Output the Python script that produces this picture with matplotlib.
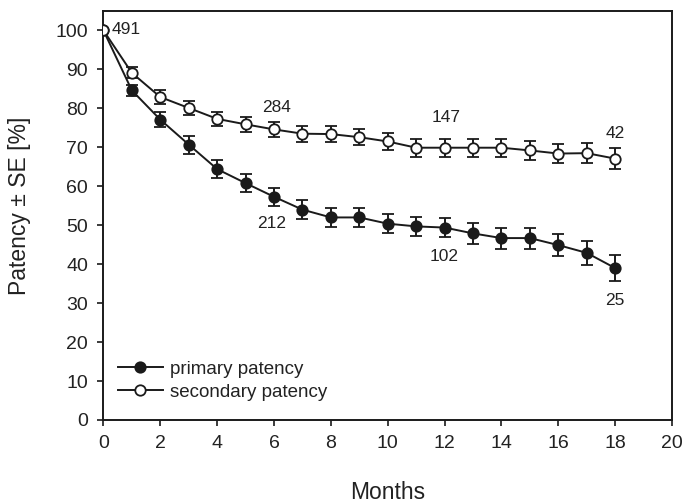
import matplotlib
matplotlib.use("Agg")
import matplotlib.pyplot as plt
from matplotlib.lines import Line2D

plt.rcParams['font.family'] = ['Liberation Sans', 'DejaVu Sans']

# dados
meses = list(range(0, 19))
primaria = [100, 84.6, 77.1, 70.7, 64.4, 60.8, 57.3, 54.0, 52.0, 52.0, 50.4,
            49.7, 49.4, 47.9, 46.7, 46.7, 44.9, 42.9, 39.0]
primaria_se = [0, 1.5, 1.9, 2.3, 2.3, 2.3, 2.3, 2.5, 2.35, 2.35, 2.5,
               2.4, 2.5, 2.65, 2.7, 2.7, 2.8, 3.0, 3.4]
secundaria = [100, 89.1, 82.9, 80.1, 77.3, 75.9, 74.6, 73.5, 73.4, 72.6, 71.5,
              69.9, 69.9, 69.9, 69.9, 69.2, 68.4, 68.5, 67.1]
secundaria_se = [0, 1.4, 1.7, 1.8, 1.8, 2.0, 2.0, 2.1, 2.1, 2.1, 2.2,
                 2.3, 2.3, 2.3, 2.3, 2.35, 2.5, 2.5, 2.7]

# numeros de pacientes em risco: (mes, valor, texto)
rotulos = [(0.28, 100.2, '491'), (6.1, 80.3, '284'), (5.9, 50.4, '212'),
           (12.05, 77.7, '147'), (12.0, 41.9, '102'), (18.0, 73.5, '42'),
           (18.0, 30.8, '25')]

cor = '#1a1a1a'
texto = '#222222'
fig = plt.figure(figsize=(6.83, 5.04), dpi=100)
ax = fig.add_axes([0.1515, 0.1667, 0.8324, 0.8115])

ax.errorbar(meses, primaria, yerr=primaria_se, color=cor, lw=1.4, elinewidth=1.4,
            capsize=4.5, capthick=1.4, marker='o', ms=7.5, mfc=cor, mec=cor,
            mew=1.3, zorder=3)
ax.errorbar(meses, secundaria, yerr=secundaria_se, color=cor, lw=1.4, elinewidth=1.4,
            capsize=4.5, capthick=1.4, marker='o', ms=7.5, mfc='white', mec=cor,
            mew=1.3, zorder=3)

for x, y, t in rotulos:
    ha = 'left' if x < 1 else 'center'
    ax.text(x, y, t, ha=ha, va='center', fontsize=12.5, color=texto)

ax.set_xlim(0, 20)
ax.set_ylim(0, 105)
ax.set_xticks(range(0, 21, 2))
ax.set_yticks(range(0, 101, 10))
ax.tick_params(direction='out', length=4, width=1.2, labelsize=14,
               colors=cor, labelcolor=texto)
ax.tick_params(axis='y', pad=7)
ax.tick_params(axis='x', pad=7)
for s in ax.spines.values():
    s.set_linewidth(1.4)
    s.set_color(cor)

ax.set_xlabel('Months', fontsize=16.5, color=texto)
ax.set_ylabel('Patency ± SE [%]', fontsize=16.5, color=texto)
ax.xaxis.set_label_coords(0.5, -0.148)
ax.yaxis.set_label_coords(-0.128, 0.523)

# legenda sem barras de erro
alcas = [Line2D([], [], color=cor, lw=1.4, marker='o', ms=7.5, mfc=cor, mec=cor, mew=1.3),
         Line2D([], [], color=cor, lw=1.4, marker='o', ms=7.5, mfc='white', mec=cor, mew=1.3)]
leg = ax.legend(alcas, ['primary patency', 'secondary patency'], loc='lower left',
                bbox_to_anchor=(-0.005, 0.006), frameon=False, fontsize=13.5,
                handlelength=2.4, handletextpad=0.4, labelspacing=0.3,
                borderaxespad=0.5)
for t in leg.get_texts():
    t.set_color(texto)

fig.savefig('out.png', dpi=100)
